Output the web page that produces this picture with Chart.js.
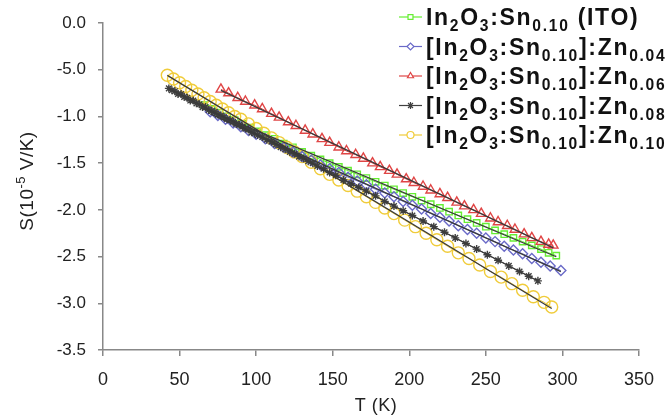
<!DOCTYPE html>
<html><head><meta charset="utf-8">
<script src="https://cdn.jsdelivr.net/npm/chart.js@4.4.0/dist/chart.umd.min.js"></script>
<style>html,body{margin:0;padding:0;background:#fff}canvas{display:block}</style>
</head><body>
<canvas id="c" width="667" height="418"></canvas>
<script>
// ---- data ----
const seriesLabels = [
  'In_{2}O_{3}:Sn_{0.10} (ITO)',
  '[In_{2}O_{3}:Sn_{0.10}]:Zn_{0.04}',
  '[In_{2}O_{3}:Sn_{0.10}]:Zn_{0.06}',
  '[In_{2}O_{3}:Sn_{0.10}]:Zn_{0.08}',
  '[In_{2}O_{3}:Sn_{0.10}]:Zn_{0.10}'
];
const tIto = [66,71,76,81,86,91,96,101,106,112,118,124,130,136,142,148,154,160,166,172,178,184,190,196,202,208,214,220,226,232,238,244,250,256,262,268,274,280,286,291,296];
const sIto = [-0.88,-0.92,-0.96,-1.00,-1.04,-1.08,-1.12,-1.16,-1.20,-1.24,-1.29,-1.33,-1.38,-1.42,-1.46,-1.50,-1.54,-1.58,-1.62,-1.66,-1.70,-1.74,-1.78,-1.82,-1.86,-1.90,-1.94,-1.98,-2.02,-2.06,-2.10,-2.14,-2.18,-2.22,-2.26,-2.30,-2.34,-2.38,-2.42,-2.46,-2.49];
const tZn04 = [70,75,80,85,90,95,100,106,112,118,124,130,136,142,148,154,160,166,172,178,184,190,196,202,208,214,220,226,232,238,244,250,256,262,268,274,280,286,292,299];
const sZn04 = [-0.95,-0.99,-1.03,-1.07,-1.11,-1.15,-1.19,-1.24,-1.29,-1.33,-1.38,-1.43,-1.47,-1.52,-1.56,-1.60,-1.65,-1.69,-1.73,-1.78,-1.82,-1.86,-1.91,-1.95,-1.99,-2.04,-2.08,-2.12,-2.17,-2.21,-2.25,-2.30,-2.34,-2.39,-2.43,-2.47,-2.52,-2.56,-2.60,-2.65];
const tZn06 = [77,82,88,93,99,104,110,115,121,126,132,137,143,148,154,159,165,170,176,181,187,192,198,203,209,214,220,225,231,236,242,247,253,258,264,269,275,280,286,291,294];
const sZn06 = [-0.71,-0.75,-0.80,-0.84,-0.88,-0.92,-0.97,-1.01,-1.06,-1.10,-1.15,-1.19,-1.24,-1.28,-1.33,-1.37,-1.41,-1.45,-1.50,-1.54,-1.58,-1.62,-1.67,-1.71,-1.75,-1.79,-1.83,-1.87,-1.92,-1.96,-2.00,-2.04,-2.09,-2.13,-2.17,-2.21,-2.26,-2.30,-2.34,-2.37,-2.38];
const tZn08 = [43,45,47,49,51,53,55,57,59,61,63,65,67,69,71,73,75,77,79,81,83,85,87,89,91,93,95,97,99,101,104,107,110,113,116,119,122,125,128,131,134,137,140,144,148,152,157,162,167,172,178,184,190,196,202,209,216,223,230,237,244,251,258,265,272,278,284];
const sZn08 = [-0.70,-0.72,-0.73,-0.76,-0.76,-0.79,-0.80,-0.83,-0.83,-0.86,-0.87,-0.90,-0.90,-0.93,-0.94,-0.95,-0.98,-0.99,-1.01,-1.03,-1.04,-1.06,-1.08,-1.09,-1.11,-1.13,-1.14,-1.17,-1.18,-1.20,-1.22,-1.25,-1.27,-1.30,-1.33,-1.35,-1.38,-1.40,-1.43,-1.45,-1.48,-1.50,-1.53,-1.56,-1.60,-1.63,-1.68,-1.72,-1.76,-1.80,-1.85,-1.91,-1.96,-2.01,-2.06,-2.12,-2.18,-2.24,-2.30,-2.36,-2.42,-2.48,-2.54,-2.60,-2.66,-2.71,-2.76];
const tZn10 = [42,46,50,54,58,62,66,70,74,78,82,86,90,95,100,105,110,115,120,125,130,136,142,148,154,160,166,172,178,184,190,197,204,211,218,225,232,239,246,253,260,267,274,281,288,293];
const sZn10 = [-0.56,-0.60,-0.64,-0.68,-0.72,-0.76,-0.80,-0.84,-0.88,-0.92,-0.96,-1.00,-1.03,-1.08,-1.13,-1.18,-1.23,-1.28,-1.33,-1.38,-1.43,-1.49,-1.56,-1.62,-1.68,-1.74,-1.80,-1.86,-1.92,-1.98,-2.04,-2.11,-2.18,-2.25,-2.32,-2.39,-2.46,-2.52,-2.59,-2.66,-2.72,-2.79,-2.86,-2.93,-2.99,-3.04];
const yTickLabels = ['0.0','-5.0','-1.0','-1.5','-2.0','-2.5','-3.0','-3.5'];
const xTitle = 'T (K)';
const yTitle = 'S(10^{-5} V/K)';

// ---- styles ----
const FAM = '"Liberation Sans", Arial, sans-serif';
const colors = ['#66ee33','#6a6ac8','#e04545','#404040','#f0cc3a'];
const markers = ['rect','rectRot','triangle','star','circle'];
const radii = [4.5,5,5.5,4,6];
const tArr = [tIto,tZn04,tZn06,tZn08,tZn10];
const sArr = [sIto,sZn04,sZn06,sZn08,sZn10];
const drawOrder = [4,3,2,1,3]; // lower = drawn on top

function pts(ts, ss){ return ts.map((t,i)=>({x:t,y:ss[i]})); }
function linFit(ts, ss){
  const n=ts.length; let sx=0,sy=0,sxx=0,sxy=0;
  for(let i=0;i<n;i++){sx+=ts[i];sy+=ss[i];sxx+=ts[i]*ts[i];sxy+=ts[i]*ss[i];}
  const b=(n*sxy-sx*sy)/(n*sxx-sx*sx), a=(sy-b*sx)/n;
  const x0=Math.min(...ts), x1=Math.max(...ts);
  return [{x:x0,y:a+b*x0},{x:x1,y:a+b*x1}];
}

const datasets = [];
for(let k=0;k<5;k++){
  datasets.push({label:'fit'+k, data:linFit(tArr[k],sArr[k]), showLine:true, borderColor:'#3a3a3a', borderWidth:1.3, pointRadius:0, order:0});
}
for(let k=0;k<5;k++){
  datasets.push({label:seriesLabels[k], data:pts(tArr[k],sArr[k]), showLine:true, borderColor:colors[k], borderWidth:1,
    pointStyle:markers[k], pointRadius:radii[k], pointBorderColor:colors[k], pointBackgroundColor:'rgba(255,255,255,0)', pointBorderWidth:1.4, order:drawOrder[k]});
}

function parseRich(s){
  const re=/_\{([^}]*)\}|\^\{([^}]*)\}|[^_^]+/g; const out=[]; let m;
  while((m=re.exec(s))){ if(m[1]!==undefined) out.push({t:m[1],k:'sub'}); else if(m[2]!==undefined) out.push({t:m[2],k:'sup'}); else out.push({t:m[0],k:'n'}); }
  return out;
}
function setF(ctx,p,size,weight,ls){ const fs = p.k==='n'?size:size*0.68; ctx.font=weight+' '+fs+'px '+FAM; ctx.letterSpacing=ls; }
function drawRich(ctx, s, x, y, size, weight, ls, align){
  const parts=parseRich(s);
  let w=0; for(const p of parts){ setF(ctx,p,size,weight,ls); w+=ctx.measureText(p.t).width; }
  let cx = align==='center'? x-w/2 : x;
  ctx.textAlign='left'; ctx.textBaseline='alphabetic';
  for(const p of parts){
    setF(ctx,p,size,weight,ls);
    const dy = p.k==='sub'? size*0.28 : (p.k==='sup'? -size*0.42 : 0);
    ctx.fillText(p.t, cx, y+dy); cx+=ctx.measureText(p.t).width;
  }
  ctx.letterSpacing='0px';
}

const overlay = {
  id:'overlay',
  afterDraw(chart){
    const ctx=chart.ctx; ctx.save();
    // legend
    const lx0=399, lx1=422, tx=426, y0=25, dy=29.5;
    for(let k=0;k<5;k++){
      const y=y0+k*dy, cy=y-8;
      ctx.strokeStyle=colors[k]; ctx.lineWidth=1.2;
      ctx.beginPath(); ctx.moveTo(lx0,cy); ctx.lineTo(lx1,cy); ctx.stroke();
      ctx.fillStyle='#ffffff';
      Chart.helpers.drawPoint(ctx,{pointStyle:markers[k],radius:3.5,borderWidth:1.2,rotation:0},(lx0+lx1)/2,cy);
      ctx.fillStyle='#111';
      drawRich(ctx, seriesLabels[k], tx, y, 23, 'bold', '1.7px', 'left');
    }
    // y title
    ctx.save(); ctx.translate(33,181); ctx.rotate(-Math.PI/2); ctx.fillStyle='#222';
    drawRich(ctx, yTitle, 0, 0, 19, 'normal', '0.5px', 'center');
    ctx.restore();
    // x title
    ctx.fillStyle='#222';
    drawRich(ctx, xTitle, 376, 411, 18, 'normal', '0.5px', 'center');
    ctx.restore();
  }
};

new Chart(document.getElementById('c'), {
  type:'scatter',
  data:{datasets},
  options:{
    responsive:false, animation:false, devicePixelRatio:1,
    layout:{padding:{top:23,right:20,left:0,bottom:0}},
    plugins:{legend:{display:false}, tooltip:{enabled:false}},
    scales:{
      x:{type:'linear', min:0, max:350,
        ticks:{stepSize:50, color:'#222', font:{family:FAM, size:18}, padding:13, maxRotation:0},
        grid:{drawOnChartArea:false, drawTicks:true, tickLength:6, color:'#888', lineWidth:1.5},
        border:{color:'#888', width:1.5},
        afterFit(s){ s.height=68; }
      },
      y:{type:'linear', min:-3.5, max:0,
        ticks:{stepSize:0.5, color:'#222', font:{family:FAM, size:17}, padding:12,
          callback:(v)=>{ const i=Math.round(-v/0.5); return yTickLabels[i]; }},
        grid:{drawOnChartArea:false, drawTicks:true, tickLength:5, color:'#888', lineWidth:1.5},
        border:{color:'#888', width:1.5},
        afterFit(s){ s.width=103; }
      }
    }
  },
  plugins:[overlay]
});
</script>
</body></html>
